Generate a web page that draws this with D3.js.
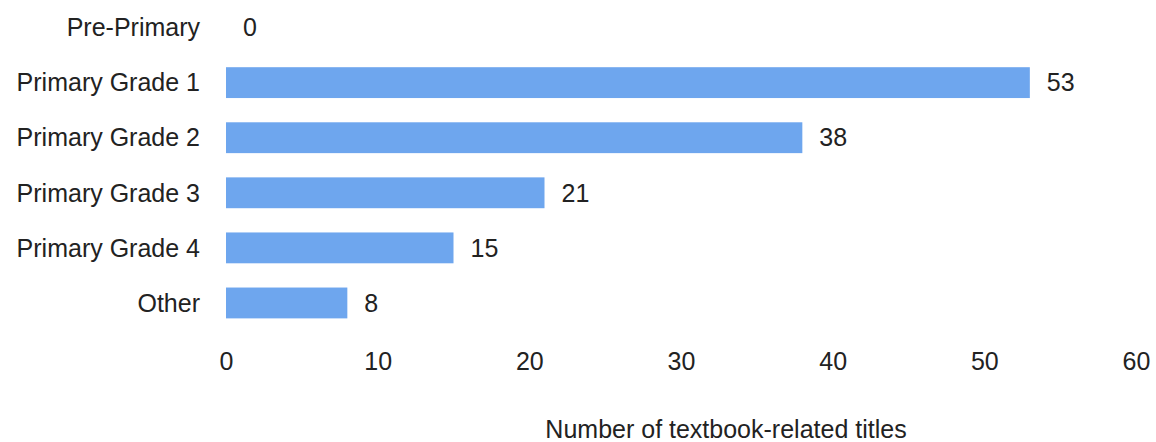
<!DOCTYPE html>
<html>
<head>
<meta charset="utf-8">
<script src="https://cdn.jsdelivr.net/npm/d3@7"></script>
<style>
  html, body { margin: 0; padding: 0; background: #fff; }
  svg text { font-family: "Liberation Sans", Arial, sans-serif; fill: #222; }
</style>
</head>
<body>
<svg id="chart" width="1156" height="442"></svg>
<script>
(function () {
    const WIDTH = 1156;
    const HEIGHT = 442;

    const categories = ['Pre-Primary', 'Primary Grade 1', 'Primary Grade 2', 'Primary Grade 3', 'Primary Grade 4', 'Other'];
    const values = [0, 53, 38, 21, 15, 8];
    const xTicks = [0, 10, 20, 30, 40, 50, 60];
    const axisTitle = 'Number of textbook-related titles';

    const BAR_COLOR = '#6ea6ee';
    const FONT_SIZE = 25;

    const svg = d3.select('#chart');

    const x = d3.scaleLinear()
        .domain([0, 60])
        .range([226, 1136]);

    // band step ~55px, bars ~31px tall
    const y = d3.scaleBand()
        .domain(categories)
        .range([0, 330.5])
        .paddingInner(0.44)
        .paddingOuter(0.22);

    const rows = categories.map((c, i) => ({ name: c, value: values[i] }));

    svg.append('g')
        .selectAll('rect')
        .data(rows)
        .join('rect')
        .attr('x', x(0))
        .attr('y', d => y(d.name))
        .attr('width', d => x(d.value) - x(0))
        .attr('height', y.bandwidth())
        .attr('fill', BAR_COLOR);

    // category labels
    svg.append('g')
        .selectAll('text')
        .data(rows)
        .join('text')
        .attr('x', 200)
        .attr('y', d => y(d.name) + y.bandwidth() / 2)
        .attr('dy', '0.35em')
        .attr('text-anchor', 'end')
        .attr('font-size', FONT_SIZE)
        .text(d => d.name);

    // value labels
    svg.append('g')
        .selectAll('text')
        .data(rows)
        .join('text')
        .attr('x', d => x(d.value) + 17)
        .attr('y', d => y(d.name) + y.bandwidth() / 2)
        .attr('dy', '0.35em')
        .attr('font-size', FONT_SIZE)
        .text(d => d.value);

    // x axis, no line or ticks
    const axis = svg.append('g')
        .attr('transform', 'translate(0,352)')
        .call(d3.axisBottom(x).tickValues(xTicks).tickSize(0).tickPadding(0));
    axis.select('.domain').remove();
    axis.selectAll('text')
        .attr('font-size', FONT_SIZE)
        .attr('font-family', '"Liberation Sans", Arial, sans-serif')
        .attr('fill', '#222');

    svg.append('text')
        .attr('x', 726)
        .attr('y', 438)
        .attr('text-anchor', 'middle')
        .attr('font-size', FONT_SIZE)
        .text(axisTitle);
})();
</script>
</body>
</html>
